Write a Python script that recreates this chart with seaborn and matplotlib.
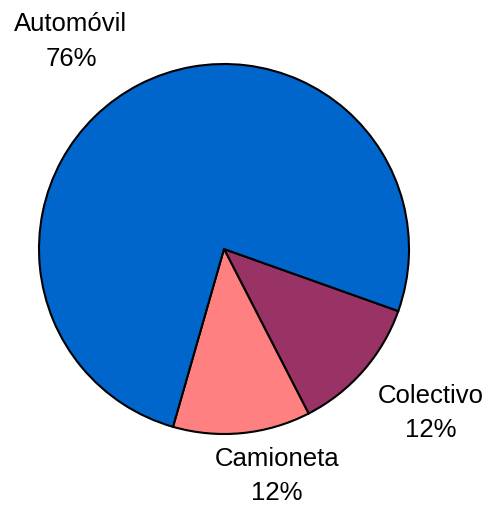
import matplotlib
matplotlib.use("Agg")
import matplotlib.pyplot as plt
import seaborn as sns
import numpy as np

# data
categories = ["Colectivo", "Camioneta", "Automóvil"]
values = [12, 12, 76]
pct_labels = ["12%", "12%", "76%"]

# style
colors = ["#993366", "#FF8080", "#0066CC"]
label_pos = [(1.119, -0.881), (0.286, -1.222), (-0.827, 1.127)]

sns.set_theme(style="white")
plt.rcParams["font.family"] = ["Liberation Sans", "DejaVu Sans"]

fig = plt.figure(figsize=(4.86, 5.06), dpi=100)
ax = fig.add_axes([0, 0, 1, 1])
ax.pie(values, colors=colors, startangle=-19.6, counterclock=False,
       radius=1.0, wedgeprops=dict(edgecolor="black", linewidth=1.5))
for cat, pct, (x, y) in zip(categories, pct_labels, label_pos):
    ax.text(x, y, f"{cat}\n{pct}", ha="center", va="center",
            fontsize=18.5, color="black", linespacing=1.55)
ax.set_xlim(-224 / 185, (486 - 224) / 185)
ax.set_ylim(-256 / 185, 250 / 185)
ax.set_aspect("auto")
ax.axis("off")
fig.savefig("out.png", dpi=100, facecolor="white")
